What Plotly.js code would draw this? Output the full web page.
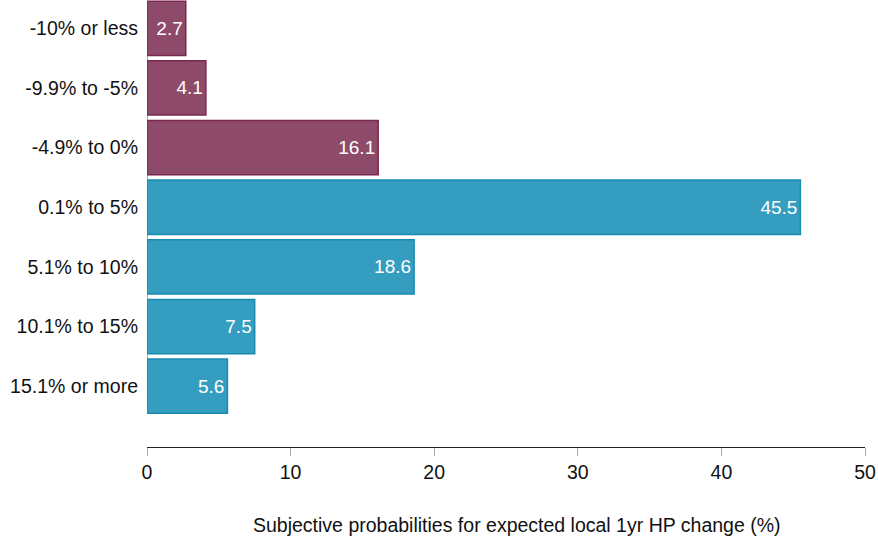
<!DOCTYPE html>
<html>
<head>
<meta charset="utf-8">
<script src="https://cdn.plot.ly/plotly-3.0.1.min.js"></script>
<style>
  html, body { margin: 0; padding: 0; background: #fff; }
  #plot { width: 878px; height: 545px; }
</style>
</head>
<body>
<div id="plot"></div>
<script>
// expected 1yr house price change buckets, top to bottom
var categories = ['-10% or less', '-9.9% to -5%', '-4.9% to 0%', '0.1% to 5%', '5.1% to 10%', '10.1% to 15%', '15.1% or more'];
var probs = [2.7, 4.1, 16.1, 45.5, 18.6, 7.5, 5.6];
var xTicks = [0, 10, 20, 30, 40, 50];

var negFill = '#8E4A69', negLine = '#7B2851';
var posFill = '#359DC0', posLine = '#1A8BB0';

var fills = probs.map(function (v, i) { return i < 3 ? negFill : posFill; });
var lines = probs.map(function (v, i) { return i < 3 ? negLine : posLine; });

var font = 'Liberation Sans, Arial, sans-serif';

var bars = {
	type: 'bar',
	orientation: 'h',
	x: probs,
	y: categories,
	text: probs.map(function (v) { return v.toFixed(1); }),
	textposition: 'inside',
	insidetextanchor: 'end',
	textangle: 0,
	insidetextfont: {family: font, size: 19, color: '#ffffff'},
	marker: {color: fills, line: {color: lines, width: 1.5}},
	hoverinfo: 'none',
	cliponaxis: false
};

var layout = {
	width: 878,
	height: 545,
	margin: {l: 147, r: 13, t: 0, b: 98},
	paper_bgcolor: '#ffffff',
	plot_bgcolor: '#ffffff',
	showlegend: false,
	bargap: 0.09,
	font: {family: font, size: 19, color: '#111111'},
	xaxis: {
		range: [0, 50],
		tickvals: xTicks,
		ticktext: xTicks.map(String),
		showgrid: false,
		zeroline: false,
		showline: true,
		linecolor: '#222222',
		linewidth: 1,
		ticks: 'outside',
		ticklen: 8,
		tickcolor: '#aaaaaa',
		tickfont: {family: font, size: 19.5, color: '#111111'},
		fixedrange: true
	},
	yaxis: {
		type: 'category',
		range: [7.02, -0.475],
		showgrid: false,
		zeroline: false,
		showline: false,
		ticks: '',
		ticklabelstandoff: 8,
		tickfont: {family: font, size: 19.5, color: '#111111'},
		fixedrange: true
	},
	shapes: [{
		type: 'line', xref: 'x', yref: 'y',
		x0: 0, x1: 0, y0: 0, y1: 6,
		line: {color: '#aaaaaa', width: 2},
		layer: 'below'
	}],
	annotations: [{
		text: 'Subjective probabilities for expected local 1yr HP change (%)',
		xref: 'paper', yref: 'paper',
		x: (517 - 147) / 718, y: -0.175,
		xanchor: 'center', yanchor: 'middle',
		showarrow: false,
		font: {family: font, size: 19.5, color: '#111111'}
	}]
};

Plotly.newPlot('plot', [bars], layout, {displayModeBar: false, staticPlot: true});
</script>
</body>
</html>
